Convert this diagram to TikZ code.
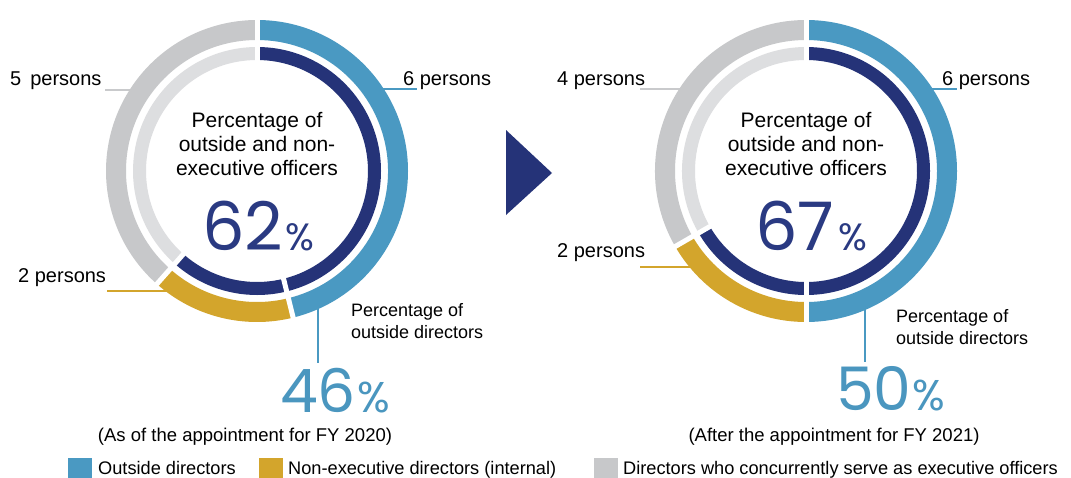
\documentclass[tikz,border=0pt]{standalone}
\usepackage{fontspec}
\setmainfont{Liberation Sans}
\newfontfamily\numfont{Poppins}
\definecolor{outblue}{HTML}{4A99C2}
\definecolor{gold}{HTML}{D3A52C}
\definecolor{outgray}{HTML}{C7C8CA}
\definecolor{ingray}{HTML}{DDDEE0}
\definecolor{navy}{HTML}{253378}
\definecolor{numnavy}{HTML}{2A3A82}
\definecolor{numblue}{HTML}{4A96BF}
\definecolor{leadgray}{HTML}{C9CACC}
\newcommand\outsec[4]{\fill[#1,shift={(#2)}] (#3:151) arc[start angle=#3,end angle=#4,radius=151] -- (#4:131) arc[start angle=#4,end angle=#3,radius=131] -- cycle;}
\newcommand\insec[4]{\fill[#1,shift={(#2)}] (#3:124) arc[start angle=#3,end angle=#4,radius=124] -- (#4:111) arc[start angle=#4,end angle=#3,radius=111] -- cycle;}
\newcommand\gapline[2]{\draw[white,line width=5pt,shift={(#1)}] (#2:104) -- (#2:156);}
\tikzset{
  persons/.style={font=\fontsize{20}{24}\selectfont, inner sep=0pt},
  ctext/.style={font=\fontsize{21}{24}\selectfont, align=center, inner sep=0pt},
  odtext/.style={font=\fontsize{18}{21.5}\selectfont, align=left, inner sep=0pt},
  bignum/.style={font=\numfont\fontsize{67}{67}\selectfont, inner sep=0pt, text depth=0pt},
  bigpct/.style={font=\numfont\fontsize{38}{38}\selectfont, inner sep=0pt, text depth=0pt},
  subnum/.style={font=\numfont\fontsize{60}{60}\selectfont, inner sep=0pt, text=numblue, text depth=0pt},
  subpct/.style={font=\numfont\fontsize{43}{43}\selectfont, inner sep=0pt, text=numblue, text depth=0pt},
  caption/.style={font=\fontsize{18.5}{22}\selectfont, inner sep=0pt},
  legtext/.style={font=\fontsize{18.2}{22}\selectfont, inner sep=0pt, anchor=base west},
  lead/.style={line width=1.5pt},
}
\begin{document}
\begin{tikzpicture}[x=1pt,y=-1pt]
\useasboundingbox (0,0) rectangle (1071,477);
\fill[white] (0,0) rectangle (1071,477);
\coordinate (L) at (257,171);
\coordinate (R) at (806,171);

% ---------- labels and leader lines (under rings) ----------
\node[persons, anchor=base west] (l5) at (10,85) {5\hspace{9pt}persons};
\coordinate (l5a) at (105,90); \coordinate (l5b) at (140,90);
\draw[lead, leadgray] (l5a) -- (l5b);
\node[persons, anchor=base west] (l6) at (403,85) {6 persons};
\coordinate (l6a) at (375,89); \coordinate (l6b) at (417,89);
\draw[lead, outblue] (l6a) -- (l6b);
\node[persons, anchor=base west] (l2) at (18,282) {2 persons};
\coordinate (l2a) at (107,291); \coordinate (l2b) at (172,291);
\draw[lead, gold] (l2a) -- (l2b);

\node[persons, anchor=base west] (r4) at (557,85) {4 persons};
\coordinate (r4a) at (640,89); \coordinate (r4b) at (690,89);
\draw[lead, leadgray] (r4a) -- (r4b);
\node[persons, anchor=base west] (r6) at (942,85) {6 persons};
\coordinate (r6a) at (925,89); \coordinate (r6b) at (957,89);
\draw[lead, outblue] (r6a) -- (r6b);
\node[persons, anchor=base west] (r2) at (557,257) {2 persons};
\coordinate (r2a) at (640,267); \coordinate (r2b) at (700,267);
\draw[lead, gold] (r2a) -- (r2b);

% ---------- left donut (FY2020) ----------
\outsec{outblue}{L}{-90}{76.15}
\outsec{gold}{L}{76.15}{131.54}
\outsec{outgray}{L}{131.54}{270}
\insec{navy}{L}{-90}{131.54}
\insec{ingray}{L}{131.54}{270}
\gapline{L}{-90}\gapline{L}{76.15}\gapline{L}{131.54}

% ---------- right donut (FY2021) ----------
\outsec{outblue}{R}{-90}{90}
\outsec{gold}{R}{90}{150}
\outsec{outgray}{R}{150}{270}
\insec{navy}{R}{-90}{150}
\insec{ingray}{R}{150}{270}
\gapline{R}{-90}\gapline{R}{90}\gapline{R}{150}

% ---------- centre texts ----------
\node[ctext, anchor=base] (lc) at (257,175) {Percentage of\\outside and non-\\executive officers};
\node[ctext, anchor=base] (rc) at (806,175) {Percentage of\\outside and non-\\executive officers};

\node[bignum, text=numnavy, anchor=base west] (l62) at (202,250) {62};
\node[bigpct, text=numnavy, anchor=base west] (l62p) at ([xshift=2pt]l62.base east) {\%};
\node[bignum, text=numnavy, anchor=base west] (r67) at (755,250) {67};
\node[bigpct, text=numnavy, anchor=base west] (r67p) at ([xshift=4pt]r67.base east) {\%};

% ---------- outside directors ----------
\coordinate (lvt) at (318,300); \coordinate (lvb) at (318,363);
\draw[lead, outblue] (lvt) -- (lvb);
\node[odtext, anchor=base west] (lod) at (351,338) {Percentage of\\outside directors};
\node[subnum, anchor=base west] (l46) at (280,412) {46};
\node[subpct, anchor=base west] (l46p) at ([xshift=1pt]l46.base east) {\%};

\coordinate (rvt) at (865,300); \coordinate (rvb) at (865,362);
\draw[lead, outblue] (rvt) -- (rvb);
\node[odtext, anchor=base west] (rod) at (896,344) {Percentage of\\outside directors};
\node[subnum, anchor=base west] (r50) at (836,410) {50};
\node[subpct, anchor=base west] (r50p) at ([xshift=1pt]r50.base east) {\%};

% ---------- captions ----------
\node[caption, anchor=base] (lcap) at (245,441) {(As of the appointment for FY 2020)};
\node[caption, anchor=base] (rcap) at (834,441) {(After the appointment for FY 2021)};

% ---------- arrow ----------
\fill[navy] (506,130) -- (552,173) -- (506,215) -- cycle;

% ---------- legend ----------
\fill[outblue] (68,458) rectangle (92,478);
\node[legtext] (lg1) at (98,474) {Outside directors};
\fill[gold] (259,458) rectangle (283,478);
\node[legtext] (lg2) at (288,474) {Non-executive directors (internal)};
\fill[outgray] (594,458) rectangle (618,478);
\node[legtext] (lg3) at (623,474) {Directors who concurrently serve as executive officers};
\end{tikzpicture}
\end{document}
